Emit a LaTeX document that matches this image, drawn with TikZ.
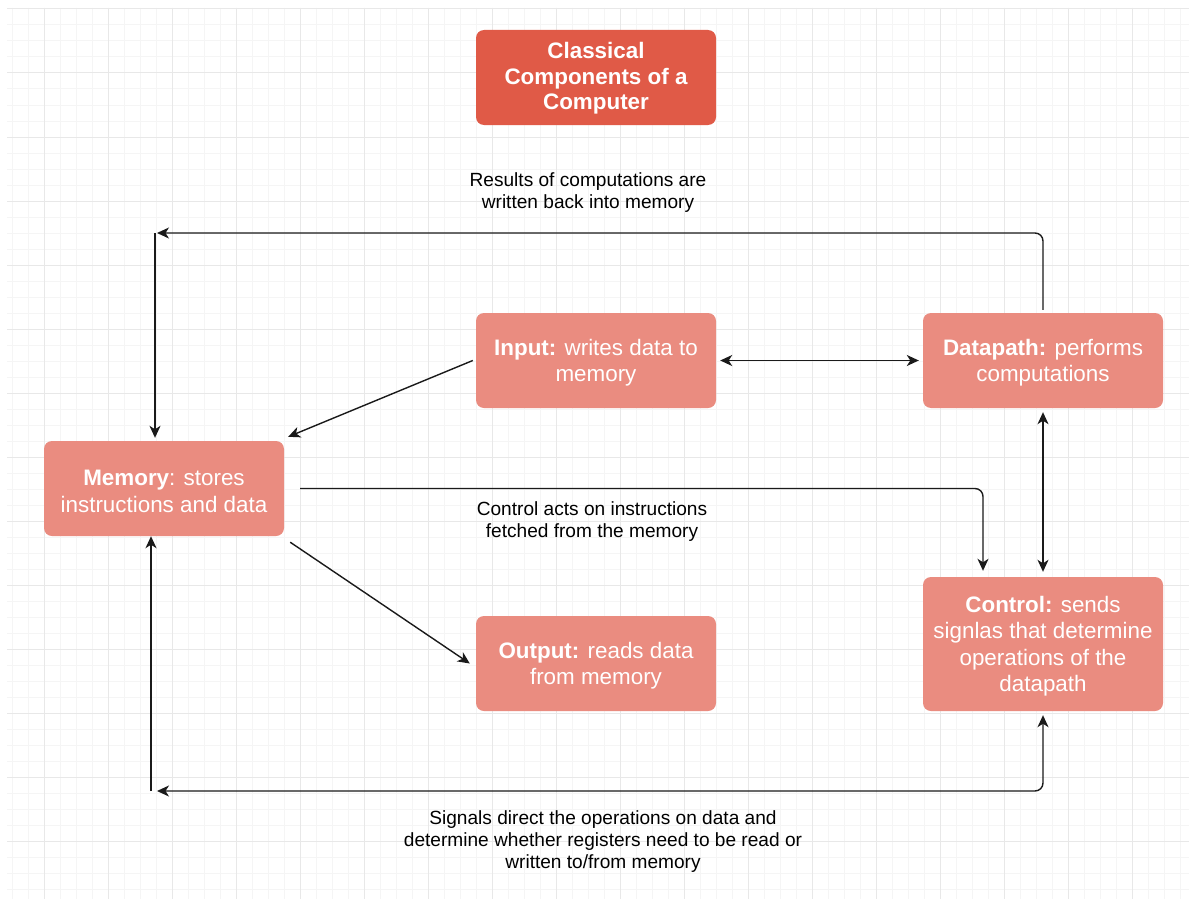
\documentclass[tikz,border=0pt]{standalone}
\usepackage{fontspec}
\setmainfont{Liberation Sans}
\usetikzlibrary{arrows.meta}

\definecolor{titlered}{HTML}{E05A47}
\definecolor{boxred}{HTML}{EA8C80}
\definecolor{gridmajor}{HTML}{E8E8E8}
\definecolor{gridminor}{HTML}{F5F5F5}
\definecolor{wire}{HTML}{1A1A1A}

\tikzset{
  part/.style={fill=boxred, rounded corners=8pt, minimum width=240pt, minimum height=95pt,
    inner sep=0pt, align=center, text=white, font=\fontsize{22.4}{26.4}\selectfont},
  heading/.style={part, fill=titlered, font=\fontsize{22.4}{25.5}\selectfont\bfseries},
  link/.style={draw=wire, line width=1.4pt, -{Stealth[length=12pt,width=11pt,inset=3.5pt]}},
  twoway/.style={link, {Stealth[length=12pt,width=11pt,inset=3.5pt]}-{Stealth[length=12pt,width=11pt,inset=3.5pt]}},
  note/.style={align=center, text=black, font=\fontsize{19.1}{22}\selectfont}
}

\begin{document}
\begin{tikzpicture}[x=1pt, y=-1pt]
  \useasboundingbox (0,0) rectangle (1189,899);
  \fill[white] (0,0) rectangle (1189,899);
  % grid
  \foreach \gx in {12,28,...,1188} \draw[gridminor, line width=1pt] (\gx,8) -- (\gx,899);
  \foreach \gy in {9,25,...,899} \draw[gridminor, line width=1pt] (7,\gy) -- (1189,\gy);
  \foreach \gx in {44,108,...,1188} \draw[gridmajor, line width=1pt] (\gx,8) -- (\gx,899);
  \foreach \gy in {9,73,...,899} \draw[gridmajor, line width=1pt] (7,\gy) -- (1189,\gy);

  % components
  \node[heading] (title) at (596,77.5) {\strut Classical\\Components of a\\Computer};
  \node[part] (input) at (596,360.5) {\rule{0pt}{21pt}\textbf{Input:} writes data to\\memory};
  \node[part] (datapath) at (1043,360.5) {\rule{0pt}{21pt}\textbf{Datapath:} performs\\computations};
  \node[part] (memory) at (164,488.5) {\rule{0pt}{21pt}\textbf{Memory}: stores\\instructions and data};
  \node[part] (output) at (596,663.5) {\rule{0pt}{21pt}\textbf{Output:} reads data\\from memory};
  \node[part, minimum height=134pt] (control) at (1043,644) {\rule{0pt}{21pt}\textbf{Control:} sends\\signlas that determine\\operations of the\\datapath};

  % labels
  \node[note] (resultnote) at (588,193) {Results of computations are\\written back into memory};
  \node[note] (fetchnote) at (592,522) {Control acts on instructions\\fetched from the memory};
  \node[note] (signalnote) at (603,842) {Signals direct the operations on data and\\determine whether registers need to be read or\\written to/from memory};

  \coordinate (wback) at (157,233);
  \coordinate (wdrop) at (155,233);
  \coordinate (sback) at (157,791);
  \coordinate (sdrop) at (151,791);

  % connectors
  \draw[link, rounded corners=8pt] ([yshift=3pt]datapath.north) |- (wback);
  \draw[link, shorten >=3pt] (wdrop) -- (wdrop |- memory.north);
  \draw[twoway, rounded corners=8pt, shorten >=4pt] (sback) -| (control.south);
  \draw[link] (sdrop) -- (sdrop |- memory.south);
  \draw[link, rounded corners=8pt, shorten >=6pt] ([xshift=16pt]memory.east) -| ([xshift=-60pt]control.north);
  \draw[twoway, shorten <=4pt, shorten >=5pt] (datapath.south) -- (control.north);
  \draw[twoway, shorten <=4pt, shorten >=4pt] (input.east) -- (datapath.west);
  \draw[link] ([xshift=-3pt]input.west) -- ([shift={(4,-4)}]memory.north east);
  \draw[link] ([shift={(6,6)}]memory.south east) -- ([xshift=-6pt]output.west);
\end{tikzpicture}
\end{document}
